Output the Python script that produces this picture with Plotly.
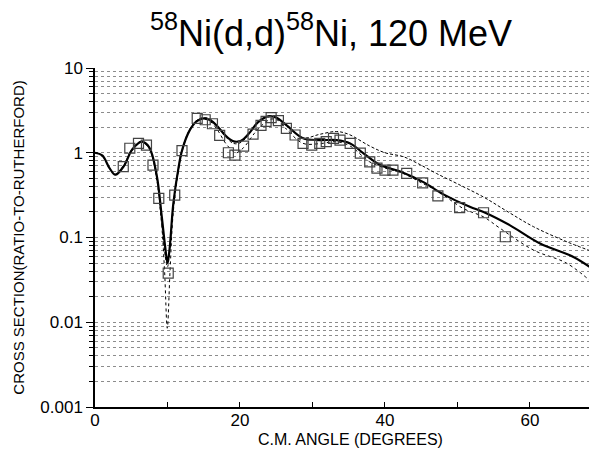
import plotly.graph_objects as go

# data
exp_angle = [3.9, 4.8, 6.0, 7.1, 8.0, 8.8, 10.1, 11.0, 12.0, 14.1, 15.2, 16.2, 17.2,
             18.4, 19.3, 20.5, 21.8, 22.9, 23.6, 24.3, 25.3, 26.4, 27.6, 28.7, 29.9,
             31.0, 31.9, 32.9, 33.8, 35.2, 36.6, 37.9, 38.9, 40.0, 41.1, 43.0, 45.2,
             47.3, 50.3, 53.6, 56.6]
exp_ratio = [0.685, 1.13, 1.29, 1.23, 0.716, 0.29, 0.038, 0.317, 1.06, 2.55, 2.45, 2.2, 1.6,
             1.0, 0.94, 1.2, 1.66, 2.1, 2.35, 2.6, 2.4, 1.94, 1.62, 1.29, 1.23,
             1.29, 1.35, 1.48, 1.41, 1.29, 0.99, 0.78, 0.66, 0.625, 0.625, 0.57, 0.44,
             0.31, 0.225, 0.196, 0.102]

solid_angle = [0, 1, 2, 2.8, 4, 5, 6, 6.5, 7.5, 8.5, 9.2, 9.7, 10.0, 10.3, 10.8, 11.5, 12.0,
               13.0, 14.0, 15.0, 16.0, 17.0, 18.0, 19.0, 19.7, 20.5, 21.5, 22.5, 24.0, 25.0,
               26.4, 28.7, 31.0, 33.3, 35.2, 37.0, 39.3, 42.1, 45.3, 48.0, 51.7, 53.6,
               57.2, 61.4, 66.0, 69.3]
solid_ratio = [1.0, 0.93, 0.66, 0.55, 0.7, 1.05, 1.3, 1.35, 1.15, 0.55, 0.18, 0.075, 0.05, 0.075,
               0.25, 0.65, 1.06, 1.8, 2.35, 2.55, 2.4, 2.0, 1.6, 1.38, 1.35, 1.45, 1.8, 2.3,
               2.7, 2.6, 2.12, 1.48, 1.41, 1.41, 1.29, 0.99, 0.72, 0.6, 0.45, 0.325, 0.23,
               0.2, 0.14, 0.085, 0.059, 0.039]

dash_angle = [0, 1, 2, 2.8, 4, 5, 6, 6.5, 7.5, 8.5, 9.2, 9.7, 10.0, 10.3, 10.8, 11.5, 12.0,
              13.0, 14.0, 15.0, 16.0, 17.0, 18.0, 19.0, 19.7, 20.5, 21.5, 22.5, 24.0, 25.0,
              26.4, 28.7, 31.0, 33.3, 35.0, 37.9, 40.0, 42.5, 44.5, 47.1, 50.0, 53.6,
              57.0, 60.5, 65.1, 69.3]
dash_ratio = [1.0, 0.93, 0.66, 0.56, 0.72, 1.08, 1.32, 1.36, 1.12, 0.5, 0.15, 0.06, 0.045, 0.07,
              0.24, 0.65, 1.08, 1.85, 2.4, 2.6, 2.45, 2.0, 1.55, 1.3, 1.28, 1.4, 1.8, 2.3,
              2.65, 2.55, 2.1, 1.5, 1.65, 1.78, 1.65, 1.2, 1.0, 0.9, 0.75, 0.57, 0.43, 0.3,
              0.2, 0.134, 0.089, 0.065]

dot_angle = [0, 1, 2, 2.8, 4, 5, 6, 6.5, 7.5, 8.5, 9.2, 9.6, 9.97, 10.35, 10.8, 11.5, 12.0,
             13.0, 14.0, 15.0, 16.0, 17.0, 18.0, 19.0, 19.5, 20.5, 22.0, 23.0, 24.3, 25.3,
             26.4, 28.7, 31.0, 33.3, 35.2, 37.9, 40.0, 42.5, 45.3, 47.1, 50.8, 53.6,
             55.9, 60.5, 65.1, 69.3]
dot_ratio = [1.0, 0.93, 0.65, 0.55, 0.7, 1.04, 1.28, 1.33, 1.12, 0.5, 0.14, 0.04, 0.0085, 0.04,
             0.2, 0.6, 1.02, 1.8, 2.35, 2.5, 2.3, 1.8, 1.3, 1.05, 1.0, 1.15, 1.7, 2.1, 2.5,
             2.4, 1.9, 1.29, 1.28, 1.35, 1.2, 0.78, 0.66, 0.57, 0.43, 0.36, 0.22, 0.175,
             0.128, 0.071, 0.0495, 0.026]

FONT = "Liberation Sans, Arial, sans-serif"
GRID = "#8c8c8c"

fig = go.Figure()

fig.add_trace(go.Scatter(x=dot_angle, y=dot_ratio, mode="lines", line_shape="spline",
                         line=dict(color="black", width=1, dash="dot")))
fig.add_trace(go.Scatter(x=dash_angle, y=dash_ratio, mode="lines", line_shape="spline",
                         line=dict(color="black", width=1, dash="3px,2px")))
fig.add_trace(go.Scatter(x=solid_angle, y=solid_ratio, mode="lines", line_shape="spline",
                         line=dict(color="black", width=2.2)))
fig.add_trace(go.Scatter(x=exp_angle, y=exp_ratio, mode="markers",
                         marker=dict(symbol="square-open", size=10, color="#444",
                                     line=dict(width=1.2))))

minor_vals = [k * 10 ** e for e in range(-3, 1) for k in range(2, 10)]

# page body adds an 8px offset, margins below account for it
fig.update_layout(
    width=597, height=449,
    title=dict(text="<sup>58</sup>Ni(d,d)<sup>58</sup>Ni, 120 MeV",
               x=0.541, xanchor="center", y=1 - 25 / 449, yanchor="middle",
               font=dict(family=FONT, size=36, color="black")),
    showlegend=False,
    plot_bgcolor="white",
    paper_bgcolor="white",
    margin=dict(l=87, r=8, t=60, b=50),
    font=dict(family=FONT, size=17, color="black"),
)

fig.add_annotation(text="C.M. ANGLE (DEGREES)", xref="paper", yref="paper",
                   x=0.508, y=-0.097, xanchor="center", yanchor="middle",
                   showarrow=False, font=dict(size=16))
fig.add_annotation(text="CROSS SECTION(RATIO-TO-RUTHERFORD)", xref="paper", yref="paper",
                   x=-0.153, y=0.5, xanchor="center", yanchor="middle", textangle=-90,
                   showarrow=False, font=dict(size=15))

fig.update_xaxes(
    range=[0, 69.25],
    tickvals=[0, 20, 40, 60],
    ticks="inside", ticklen=5, tickcolor="black",
    minor=dict(tickvals=[10, 30, 50], ticks="inside", ticklen=5, tickcolor="black"),
    showline=True, linecolor="black", linewidth=1.5,
    showgrid=False, zeroline=False,
    tickfont=dict(size=17),
    ticklabelstandoff=-3,
)

fig.update_yaxes(
    type="log", range=[-3, 1],
    tickvals=[0.001, 0.01, 0.1, 1, 10],
    ticktext=["0.001", "0.01", "0.1", "1", "10"],
    ticks="outside", ticklen=7, tickcolor="black",
    showline=True, linecolor="black", linewidth=1.5,
    showgrid=True, gridcolor=GRID, griddash="dot", gridwidth=1,
    minor=dict(tickvals=minor_vals, ticks="outside", ticklen=4, tickcolor="black",
               showgrid=True, gridcolor=GRID, griddash="dot", gridwidth=1),
    zeroline=False,
)

fig.write_html("out.html")
